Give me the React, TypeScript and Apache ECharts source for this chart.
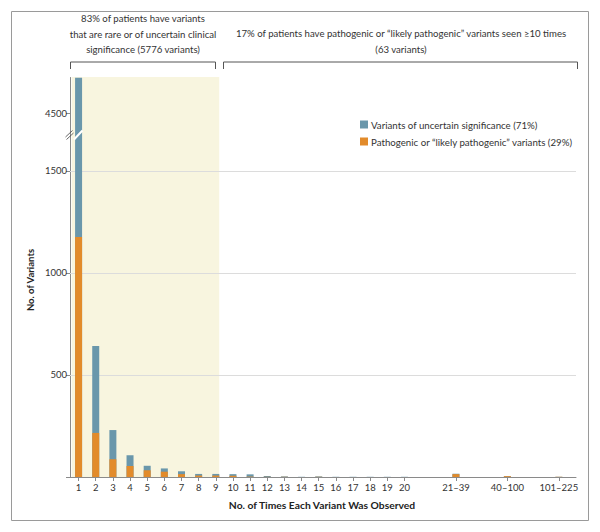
import React, { useEffect, useRef } from "react";
import * as echarts from "echarts";

// ---- data ----
const categories = [
  "1", "2", "3", "4", "5", "6", "7", "8", "9", "10",
  "11", "12", "13", "14", "15", "16", "17", "18", "19", "20",
  "21–39", "40–100", "101–225",
];
// positions of each category along the (gapped) x axis
const slots = [
  1, 2, 3, 4, 5, 6, 7, 8, 9, 10,
  11, 12, 13, 14, 15, 16, 17, 18, 19, 20,
  23, 26, 29,
];
const pathogenic = [
  1176, 216, 87, 54, 33, 26, 14, 7, 7, 6,
  2, 1, 1, 0, 1, 0, 0, 0, 0, 0,
  14, 4, 1,
];
const uncertain = [
  3500, 426, 143, 52, 22, 16, 14, 8, 8, 8,
  11, 4, 2, 1, 2, 1, 1, 1, 1, 1,
  2, 0, 0,
];
const yTickValues = [0, 500, 1000, 1500, 4500];
const yLabelValues = [500, 1000, 1500, 4500];
const gridValues = [500, 1000, 1500];
const shadedRange = [0.6, 9.2];
const yBreak = { start: 1680, end: 4400 };

const nameUncertain = "Variants of uncertain significance (71%)";
const namePathogenic = "Pathogenic or \u201clikely pathogenic\u201d variants (29%)";

const FONT = "Lato, 'Open Sans', sans-serif";
const BLUE = "#6a97ab";
const ORANGE = "#e28b2b";
const CREAM = "#f8f5df";
const AXIS = "#8a8a8a";
const TEXT = "#333333";

export default function App() {
  const ref = useRef<HTMLDivElement>(null);

  useEffect(() => {
    if (!ref.current) return;
    const chart = echarts.init(ref.current, undefined, { renderer: "svg" });

    // stacked totals: orange from 0, blue segment on top of it
    const totals = uncertain.map((u, i) => u + pathogenic[i]);
    const toPair = (arr: number[]) => arr.map((v, i) => [slots[i], v]);

    const option: any = {
      animation: false,
      backgroundColor: "#ffffff",
      textStyle: { fontFamily: FONT },
      grid: {
        left: 70,
        right: 24,
        top: 77,
        bottom: 55,
        containLabel: false,
        outerBoundsMode: "none",
      },
      legend: {
        data: [nameUncertain, namePathogenic],
        orient: "vertical",
        left: 355,
        top: 114.5,
        itemWidth: 8,
        itemHeight: 8,
        itemGap: 7,
        icon: "rect",
        selectedMode: false,
        textStyle: { fontSize: 9.7, color: TEXT, fontFamily: FONT, padding: [0, 0, 0, -2] },
      },
      xAxis: {
        type: "value",
        min: 0.5,
        max: 30,
        axisLine: { show: true, onZero: false, lineStyle: { color: AXIS, width: 1 } },
        axisTick: { show: true, customValues: slots, length: 4, lineStyle: { color: AXIS } },
        axisLabel: {
          customValues: slots,
          formatter: (v: number) => {
            const i = slots.indexOf(v);
            return i >= 0 ? categories[i] : "";
          },
          fontSize: 9.5,
          color: TEXT,
          margin: 5,
          fontFamily: FONT,
        },
        splitLine: { show: false },
      },
      yAxis: {
        type: "value",
        min: 0,
        max: 4680,
        breaks: [{ start: yBreak.start, end: yBreak.end, gap: 0 }],
        breakArea: { show: false },
        axisLine: { show: true, lineStyle: { color: AXIS, width: 1 } },
        axisTick: { show: true, customValues: yTickValues, length: 4, lineStyle: { color: AXIS } },
        axisLabel: {
          customValues: yLabelValues,
          formatter: (v: number) => String(v),
          fontSize: 9.5,
          color: TEXT,
          margin: 3,
          fontFamily: FONT,
        },
        splitLine: { show: false },
      },
      series: [
        {
          type: "line",
          name: "bg",
          data: [],
          z: 1,
          silent: true,
          markArea: {
            silent: true,
            z: 0,
            itemStyle: { color: CREAM },
            data: [[{ xAxis: shadedRange[0] }, { xAxis: shadedRange[1] }]],
          },
          markLine: {
            silent: true,
            z: 1,
            symbol: "none",
            label: { show: false },
            lineStyle: { color: "#dcdcdc", width: 1, type: "solid" },
            data: gridValues.map((v) => ({ yAxis: v })),
          },
        },
        {
          type: "bar",
          name: nameUncertain,
          barWidth: 7,
          barGap: "-100%",
          z: 2,
          itemStyle: { color: BLUE },
          data: toPair(totals),
        },
        {
          type: "bar",
          name: namePathogenic,
          barWidth: 7,
          barGap: "-100%",
          z: 3,
          itemStyle: { color: ORANGE },
          data: toPair(pathogenic),
        },
      ],
      graphic: [
        {
          type: "rect",
          z: 100,
          shape: { x: 11.5, y: 11.5, width: 577, height: 509 },
          style: { fill: "none", stroke: "#9a9a9a", lineWidth: 1 },
        },
        {
          type: "polyline",
          z: 100,
          shape: { points: [[70.5, 69], [70.5, 62], [215.5, 62], [215.5, 69]] },
          style: { fill: "none", stroke: "#555", lineWidth: 1 },
        },
        {
          type: "polyline",
          z: 100,
          shape: { points: [[223.5, 69], [223.5, 62], [577.5, 62], [577.5, 69]] },
          style: { fill: "none", stroke: "#555", lineWidth: 1 },
        },
        {
          type: "text",
          z: 100,
          x: 143,
          y: 11,
          style: {
            text: "83% of patients have variants\nthat are rare or of uncertain clinical\nsignificance (5776 variants)",
            align: "center",
            verticalAlign: "top",
            fontSize: 9.6,
            lineHeight: 15.5,
            fill: TEXT,
            fontFamily: FONT,
          },
        },
        {
          type: "text",
          z: 100,
          x: 401,
          y: 26,
          style: {
            text: "17% of patients have pathogenic or \u201clikely pathogenic\u201d variants seen \u226510 times\n(63 variants)",
            align: "center",
            verticalAlign: "top",
            fontSize: 9.6,
            lineHeight: 15.5,
            fill: TEXT,
            fontFamily: FONT,
          },
        },
        {
          type: "text",
          z: 100,
          x: 322,
          y: 505,
          style: {
            text: "No. of Times Each Variant Was Observed",
            align: "center",
            verticalAlign: "middle",
            fontSize: 10.3,
            fontWeight: "bold",
            fill: "#222",
            fontFamily: FONT,
          },
        },
        {
          type: "text",
          z: 100,
          x: 30,
          y: 280,
          rotation: Math.PI / 2,
          style: {
            text: "No. of Variants",
            align: "center",
            verticalAlign: "middle",
            fontSize: 9.5,
            fontWeight: "bold",
            fill: "#222",
            fontFamily: FONT,
          },
        },
        // white slash across the broken bar
        {
          type: "line",
          z: 100,
          shape: { x1: 74, y1: 139.5, x2: 82.5, y2: 130.5 },
          style: { stroke: "#ffffff", lineWidth: 2 },
        },
        // "//" axis break marks
        {
          type: "line",
          z: 100,
          shape: { x1: 65.5, y1: 137, x2: 72.5, y2: 130.5 },
          style: { stroke: "#444", lineWidth: 0.8 },
        },
        {
          type: "line",
          z: 100,
          shape: { x1: 66.5, y1: 139.5, x2: 73.5, y2: 133 },
          style: { stroke: "#444", lineWidth: 0.8 },
        },
      ],
    };

    chart.setOption(option);
    return () => chart.dispose();
  }, []);

  return (
    <div
      ref={ref}
      style={{ position: "fixed", left: 0, top: 0, width: 600, height: 532, background: "#fff" }}
    />
  );
}
